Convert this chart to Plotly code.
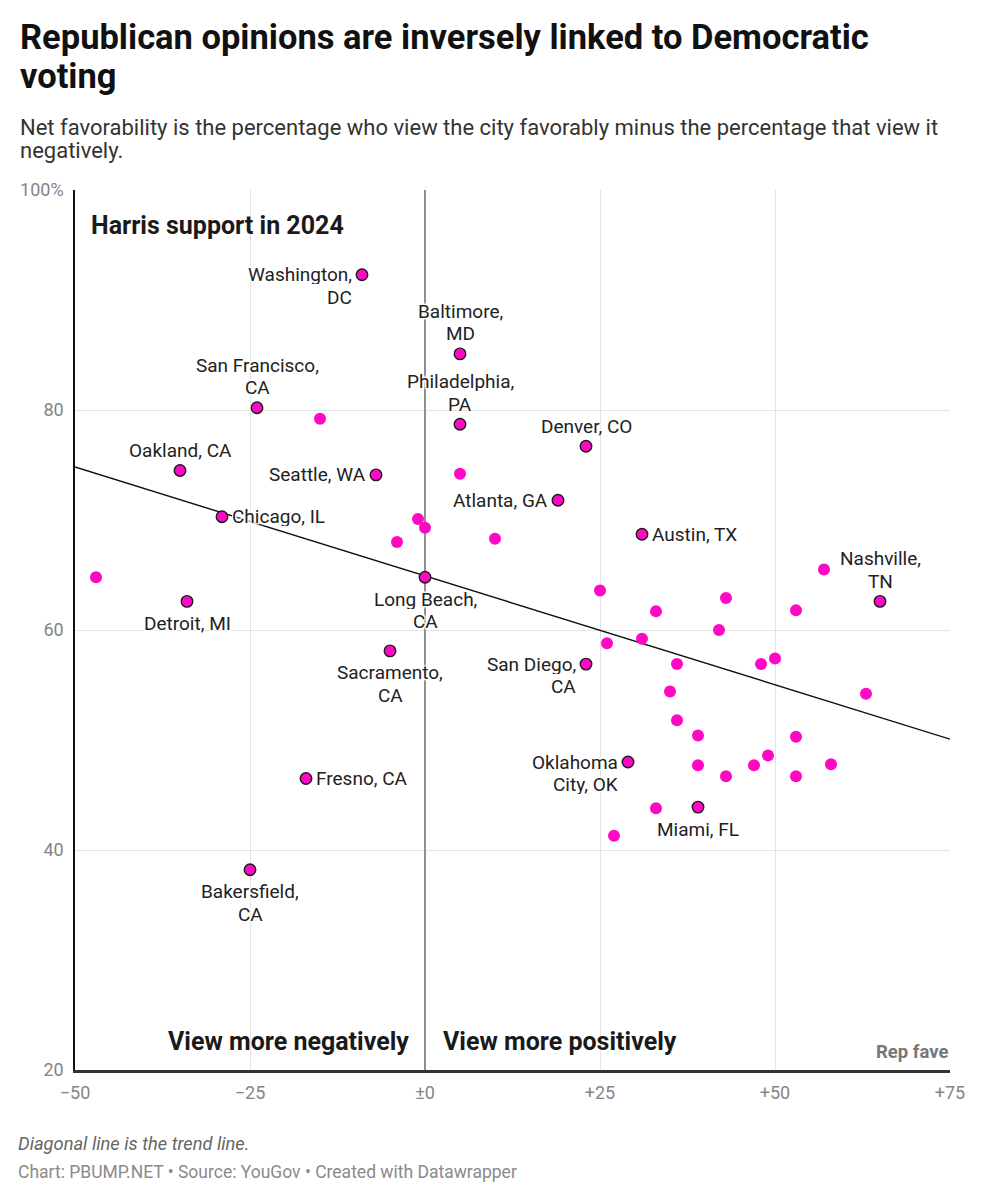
import numpy as np
import plotly.graph_objects as go

# ---- data ----
# labelled cities (outlined markers)
city_names = ["Washington,<br>DC", "Baltimore,<br>MD", "San Francisco,<br>CA", "Philadelphia,<br>PA",
              "Denver, CO", "Oakland, CA", "Seattle, WA", "Atlanta, GA", "Chicago, IL", "Austin, TX",
              "Long Beach,<br>CA", "Detroit, MI", "Nashville,<br>TN", "Sacramento,<br>CA", "San Diego,<br>CA",
              "Oklahoma<br>City, OK", "Fresno, CA", "Miami, FL", "Bakersfield,<br>CA"]
city_fave = [-9, 5, -24, 5, 23, -35, -7, 19, -29, 31, 0, -34, 65, -5, 23, 29, -17, 39, -25]
city_harris = [92.3, 85.1, 80.2, 78.7, 76.7, 74.5, 74.1, 71.8, 70.3, 68.7, 64.8, 62.6, 62.6, 58.1, 56.9,
               48.0, 46.5, 43.9, 38.2]
city_label_pos = ["left2", "above", "above", "above", "above", "above", "left", "left", "right", "right",
                  "below", "below", "above", "below", "left2", "left2", "right", "below", "below"]

# unlabelled cities
other_fave = [-15, 5, -1, 0, -4, 10, -47, 25, 57, 43, 33, 53, 42, 26, 31, 36, 48, 50, 63, 35, 36, 39,
              53, 49, 47, 39, 58, 43, 53, 33, 27]
other_harris = [79.2, 74.2, 70.1, 69.3, 68.0, 68.3, 64.8, 63.6, 65.5, 62.9, 61.7, 61.8, 60.0, 58.8, 59.2,
                56.9, 56.9, 57.4, 54.2, 54.4, 51.8, 50.4, 50.3, 48.6, 47.7, 47.7, 47.8, 46.7, 46.7, 43.8, 41.3]

x_ticks = [-50, -25, 0, 25, 50, 75]
x_tick_text = ["\u221250", "\u221225", "\u00b10", "+25", "+50", "+75"]
y_ticks = [20, 40, 60, 80, 100]
y_tick_text = ["20", "40", "60", "80", "100%"]

title_lines = ["Republican opinions are inversely linked to Democratic", "voting"]
subtitle_lines = ["Net favorability is the percentage who view the city favorably minus the percentage that view it",
                  "negatively."]
note_text = "Diagonal line is the trend line."
source_text = "Chart: PBUMP.NET \u2022 Source: YouGov \u2022 Created with Datawrapper"

PINK = "#ff08c4"
FONT = "Roboto"

# page geometry (page body has an 8px margin)
FIG_W, FIG_H = 975, 1192
PL, PT, PW, PH = 72, 190, 878, 880  # plot area in page pixels


def pp(X, Y):
    """page pixel -> paper coords"""
    return (X - PL) / PW, (PT + PH - Y) / PH


# trend line from least squares fit of all points
all_x = np.array(city_fave + other_fave, dtype=float)
all_y = np.array(city_harris + other_harris, dtype=float)
slope, intercept = np.polyfit(all_x, all_y, 1)
trend_x = np.array([x_ticks[0], x_ticks[-1]], dtype=float)
trend_y = slope * trend_x + intercept

fig = go.Figure()
fig.add_trace(go.Scatter(x=trend_x, y=trend_y, mode="lines",
                         line=dict(color="#111111", width=1.4), hoverinfo="skip", showlegend=False))
fig.add_trace(go.Scatter(x=other_fave, y=other_harris, mode="markers",
                         marker=dict(size=12, color=PINK, line=dict(width=0)),
                         hoverinfo="skip", showlegend=False))
fig.add_trace(go.Scatter(x=city_fave, y=city_harris, mode="markers",
                         marker=dict(size=11.5, color=PINK, line=dict(width=1.4, color="#1a1a1a")),
                         hoverinfo="skip", showlegend=False))

halo = ("0 0 2px #fff, 0 0 2px #fff, 0 0 3px #fff, 0 0 3px #fff, 0 0 4px #fff, "
        "1px 1px 1px #fff, -1px -1px 1px #fff, 1px -1px 1px #fff, -1px 1px 1px #fff")
label_font = dict(family=FONT, size=19, color="#222222", shadow=halo)
LINE = 22.5

annotations = []
for name, fx, hy, pos in zip(city_names, city_fave, city_harris, city_label_pos):
    lines = name.split("<br>")
    n = len(lines)
    for i, ln in enumerate(lines):
        if pos == "above":
            kw = dict(xanchor="center", xshift=0, yshift=20 + (n - 1 - i) * LINE)
        elif pos == "below":
            kw = dict(xanchor="center", xshift=0, yshift=-(22 + i * LINE))
        elif pos == "left":
            kw = dict(xanchor="right", xshift=-9, yshift=0)
        elif pos == "right":
            kw = dict(xanchor="left", xshift=9, yshift=0)
        else:  # left2: first line level with point, following lines below
            kw = dict(xanchor="right", xshift=-9, yshift=-i * LINE)
        annotations.append(dict(x=fx, y=hy, xref="x", yref="y", text=ln, showarrow=False,
                                yanchor="middle", height=19, valign="middle", borderpad=0,
                                font=label_font, **kw))


def page_text(X, Y, text, size, color, xanchor="left", bold=False, italic=False):
    if xanchor == "left":
        X -= 3
    x, y = pp(X, Y)
    if bold:
        text = "<b>" + text + "</b>"
    if italic:
        text = "<i>" + text + "</i>"
    return dict(xref="paper", yref="paper", x=x, y=y, text=text, showarrow=False,
                xanchor=xanchor, yanchor="middle", align=xanchor if xanchor != "center" else "center",
                font=dict(family=FONT, size=size, color=color))


annotations += [
    page_text(18, 37, title_lines[0], 34.5, "#111111", bold=True),
    page_text(18, 76, title_lines[1], 34.5, "#111111", bold=True),
    page_text(18, 127, subtitle_lines[0], 22, "#333333"),
    page_text(18, 151, subtitle_lines[1], 22, "#333333"),
    page_text(89, 225, "Harris support in 2024", 25, "#1a1a1a", bold=True),
    page_text(409, 1041, "View more negatively", 25, "#1a1a1a", xanchor="right", bold=True),
    page_text(442, 1041, "View more positively", 25, "#1a1a1a", bold=True),
    page_text(950, 1052, "Rep fave", 18.5, "#777777", xanchor="right", bold=True),
    page_text(16, 1143, note_text, 18.3, "#666666", italic=True),
    page_text(16, 1172, source_text, 17.5, "#8a8a8a"),
]

fig.update_layout(
    width=FIG_W, height=FIG_H,
    margin=dict(l=PL - 8, r=FIG_W - (PL - 8) - PW, t=PT - 8, b=FIG_H - (PT - 8) - PH),
    paper_bgcolor="white", plot_bgcolor="white",
    font=dict(family=FONT, color="#333333"),
    showlegend=False,
    annotations=annotations,
    hovermode=False,
)
fig.update_xaxes(range=[-50, 75], tickvals=x_ticks, ticktext=x_tick_text,
                 showgrid=True, gridcolor="#e3e3e3", gridwidth=1,
                 zeroline=True, zerolinecolor="#8f8f8f", zerolinewidth=1.5,
                 showline=True, linecolor="#333333", linewidth=2.5,
                 ticks="", ticklabelstandoff=5,
                 tickfont=dict(family=FONT, size=18, color="#858585"), fixedrange=True)
fig.update_yaxes(range=[20, 100], tickvals=y_ticks, ticktext=y_tick_text,
                 showgrid=True, gridcolor="#e3e3e3", gridwidth=1,
                 zeroline=False,
                 showline=True, linecolor="#111111", linewidth=1.5,
                 ticks="", ticklabelstandoff=6,
                 tickfont=dict(family=FONT, size=18, color="#858585"), fixedrange=True)

fig.write_html("out.html")
